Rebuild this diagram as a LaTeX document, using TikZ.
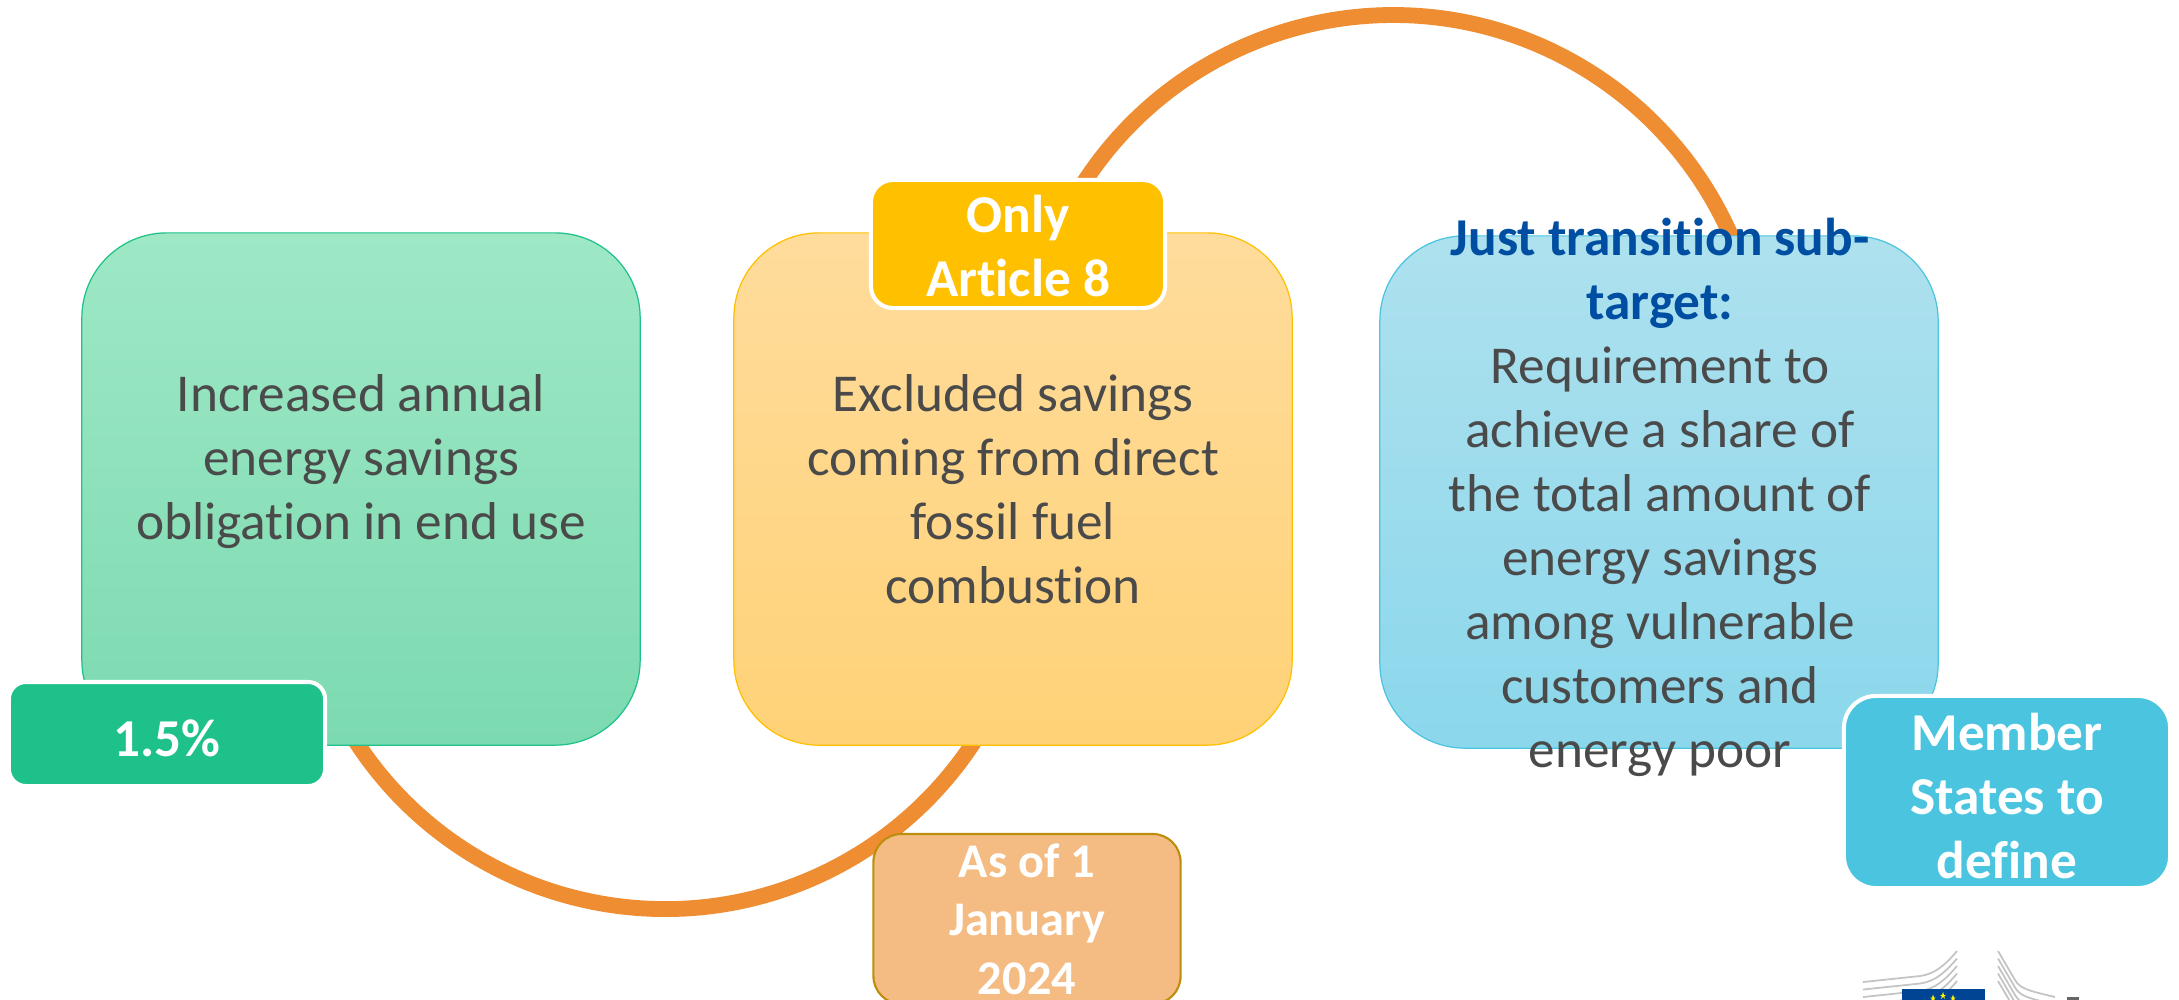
\documentclass[tikz,border=0pt]{standalone}
\usepackage{fontspec}
\setmainfont{Carlito}[Ligatures=NoCommon]
\definecolor{txt}{HTML}{4A4A4A}
\definecolor{arcc}{HTML}{EE8D31}
\definecolor{heading}{HTML}{004EA2}
\definecolor{gboxt}{HTML}{9EE8C5}
\definecolor{gboxb}{HTML}{7CDAB0}
\definecolor{gline}{HTML}{1FC18A}
\definecolor{oboxt}{HTML}{FFDC9C}
\definecolor{oboxb}{HTML}{FFD277}
\definecolor{oline}{HTML}{FFC000}
\definecolor{bboxt}{HTML}{AEE1EE}
\definecolor{bboxb}{HTML}{8BD7EC}
\definecolor{bline}{HTML}{4BC4DF}
\definecolor{asfill}{HTML}{F4BC83}
\definecolor{asline}{HTML}{BC8E0C}
\definecolor{logogrey}{HTML}{C4C4C4}
\definecolor{logoblue}{HTML}{004494}
\tikzset{x=0.01cm,y=-0.01cm,
 bigbox/.style={rectangle,rounded corners=0.85cm,line width=0.35pt,minimum width=5.58cm,minimum height=5.12cm,inner sep=0pt},
 bodytext/.style={text=txt,align=center,font=\fontsize{15.15}{18.2}\selectfont,inner sep=0pt},
 tagbox/.style={rectangle,draw=white,line width=1.15pt,inner sep=0pt},
 tagtext/.style={text=white,align=center,inner sep=0pt,font=\bfseries\fontsize{15.15}{18.2}\selectfont},
 arcline/.style={draw=arcc,line width=4.5pt,line cap=butt},
 logoline/.style={draw=logogrey,line width=0.5pt}}
\begin{document}
\begin{tikzpicture}
\useasboundingbox (0,0) rectangle (2179,999);
\clip (0,0) rectangle (2179,999);
\fill[white] (0,0) rectangle (2179,999);
% arcs
\coordinate (a1) at (342.3,718.9);
\coordinate (b1) at (1076.7,194);
\draw[arcline] (a1) arc[start angle=151,end angle=29,radius=369];
\draw[arcline] (b1) arc[start angle=211,end angle=338,radius=369];
% big boxes
\node[bigbox,draw=gline,top color=gboxt,bottom color=gboxb] (box1) at (361,489) {};
\node[bigbox,draw=oline,top color=oboxt,bottom color=oboxb] (box2) at (1013,489) {};
\node[bigbox,draw=bline,top color=bboxt,bottom color=bboxb] (box3) at (1659,492) {};
% body texts
\node[bodytext] (t1) at (361,462) {Increased annual\\energy savings\\obligation in end use};
\node[bodytext] (t2) at (1013,489) {Excluded savings\\coming from direct\\fossil fuel\\combustion};
\node[bodytext] (t3) at (1660,497) {{\bfseries\color{heading}Just transition sub-}\\{\bfseries\color{heading}target:}\\Requirement to\\achieve a share of\\the total amount of\\energy savings\\among vulnerable\\customers and\\energy poor};
% tags
\node[tagbox,fill=gline,rounded corners=0.17cm,minimum width=3.16cm,minimum height=1.04cm] (tag1) at (167,734) {};
\node[tagtext] (tag1t) at (167,738) {1.5\%};
\node[tagbox,fill=oline,rounded corners=0.22cm,minimum width=2.94cm,minimum height=1.28cm] (tag2) at (1018,244) {};
\node[tagtext] (tag2t) at (1018,245.5) {Only\\Article 8};
\node[rectangle,draw=asline,line width=0.6pt,fill=asfill,rounded corners=0.28cm,minimum width=3.07cm,minimum height=1.70cm,text=white,align=center,inner sep=0pt,font=\bfseries\fontsize{13.75}{16.6}\selectfont] (tag3) at (1027,919) {As of 1\\January\\2024};
\node[tagbox,fill=bline,rounded corners=0.32cm,minimum width=3.26cm,minimum height=1.92cm] (tag4) at (2007,792) {};
\node[tagtext] (tag4t) at (2007,796) {Member\\States to\\define};
% logo
\foreach \d in {0,7.5,15,22.5,30}{
 \draw[logoline] (1863,982+\d) -- (1920,976+\d) .. controls (1935,974+\d) and (1945,965+\d) .. (1957,951+\d);
 \draw[logoline] (1998,951+\d) -- (2015,980+\d) .. controls (2020,988+\d) and (2025,990+\d) .. (2055,997+\d);
}
\fill[logoblue] (1902,989) rectangle (1985,1000);
\foreach \sx/\sy in {1943/995,1933/997.5,1953/997.5}{
 \fill[yellow] (\sx,\sy-3) -- (\sx+1,\sy) -- (\sx+3,\sy) -- (\sx+1.2,\sy+1.2) -- (\sx+2,\sy+4) -- (\sx,\sy+2) -- (\sx-2,\sy+4) -- (\sx-1.2,\sy+1.2) -- (\sx-3,\sy) -- (\sx-1,\sy) -- cycle;
}
\fill[black!60] (2067,997) rectangle (2079,1000);
\end{tikzpicture}
\end{document}
